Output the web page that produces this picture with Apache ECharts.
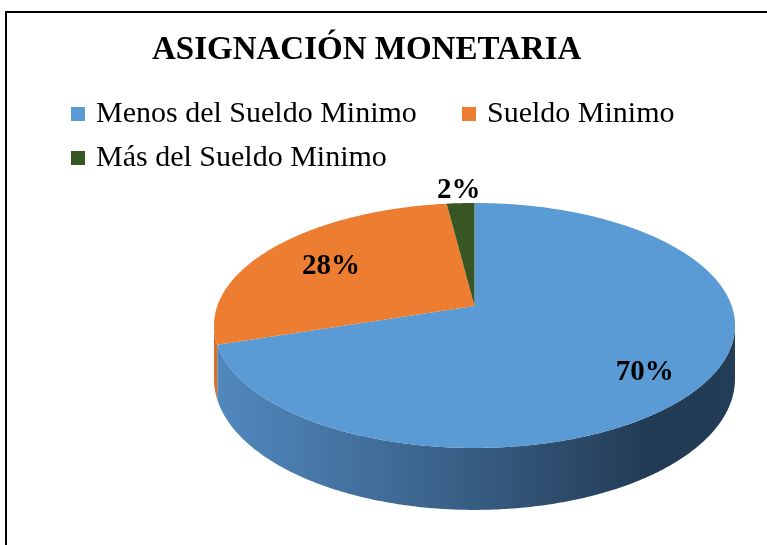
<!DOCTYPE html>
<html>
<head>
<meta charset="utf-8">
<script src="https://cdn.jsdelivr.net/npm/echarts@6/dist/echarts.min.js"></script>
<style>
  html, body { margin: 0; padding: 0; background: #fff; }
  #frame { position: absolute; left: 5px; top: 11px; width: 800px; height: 600px; border: 2px solid #000; box-sizing: border-box; }
  #chart { position: absolute; left: 0; top: 0; width: 767px; height: 545px; }
</style>
</head>
<body>
<div id="frame"></div>
<div id="chart"></div>
<script>
// ---- data ----
const title = 'ASIGNACIÓN MONETARIA';
const categories = ['Menos del Sueldo Minimo', 'Sueldo Minimo', 'Más del Sueldo Minimo'];
const values = [70, 28, 2];

// ---- styles ----
const topColors = ['#5b9bd5', '#ed7d31', '#375623'];
const sideStops = [
  [{offset: 0, color: '#5189bf'}, {offset: 0.45, color: '#3a6189'}, {offset: 0.85, color: '#223a53'}, {offset: 1, color: '#243d57'}],
  [{offset: 0, color: '#d8712c'}, {offset: 1, color: '#8a4a1c'}],
  [{offset: 0, color: '#2e481d'}, {offset: 1, color: '#1c2c12'}]
];

// projection of the tilted disc (perspective)
const CX = 474.5, CY = 306, A = 257.2, B = 119.4, K = 0.159, D = 52.1;
function proj(theta, r, drop) {
  const u = r * Math.sin(theta), v = r * Math.cos(theta);
  const w = 1 + K * v;
  return [CX + A * u / w, CY - B * v / w + (drop ? D / w : 0)];
}
const total = values.reduce((s, v) => s + v, 0);
const starts = [];
let acc = 0;
values.forEach(v => { starts.push(acc / total * Math.PI * 2); acc += v; });

function arcPts(a0, a1, drop) {
  const pts = [];
  const n = Math.max(2, Math.ceil((a1 - a0) / (Math.PI / 360)));
  for (let i = 0; i <= n; i++) pts.push(proj(a0 + (a1 - a0) * i / n, 1, drop));
  return pts;
}

function makeRender(idx) {
  return function (params, api) {
    const v = api.value(0);
    const a0 = starts[idx];
    const a1 = a0 + v / total * Math.PI * 2;
    const children = [];
    // visible side (front) range
    const s0 = Math.acos(-K), s1 = Math.PI * 2 - Math.acos(-K);
    const b0 = Math.max(a0, s0), b1 = Math.min(a1, s1);
    if (b1 > b0) {
      const topRim = arcPts(b0, b1, false);
      const botRim = arcPts(b0, b1, true).reverse();
      children.push({
        type: 'polygon',
        shape: { points: topRim.concat(botRim) },
        style: { fill: { type: 'linear', x: CX - A * 1.013, y: 0, x2: CX + A * 1.013, y2: 0, global: true, colorStops: sideStops[idx] } }
      });
    }
    children.push({
      type: 'polygon',
      shape: { points: [proj(0, 0, false)].concat(arcPts(a0, a1, false)) },
      style: { fill: topColors[idx] }
    });
    const pct = v / total;
    const rl = pct < 0.05 ? 1.15 : (pct > 0.5 ? 0.76 : 0.7);
    const dy = pct < 0.05 ? 0 : (pct > 0.5 ? 9 : 3);
    const lp = proj((a0 + a1) / 2, rl, false);
    children.push({
      type: 'text',
      x: lp[0], y: lp[1] + dy,
      style: {
        text: Math.round(pct * 100) + '%',
        align: 'center', verticalAlign: 'middle',
        font: 'bold 29px "Liberation Serif", "Times New Roman", serif',
        fill: '#000'
      }
    });
    return { type: 'group', children };
  };
}

const chart = echarts.init(document.getElementById('chart'), null, { renderer: 'canvas' });
const legendBase = {
  orient: 'horizontal', padding: 0, itemWidth: 14, itemHeight: 14, icon: 'rect',
  selectedMode: false,
  textStyle: { fontFamily: '"Liberation Serif", "Times New Roman", serif', fontSize: 30, color: '#000', padding: [0, 0, 0, 6] }
};
chart.setOption({
  animation: false,
  title: {
    text: title, left: 152, top: 34, padding: 0,
    textStyle: { fontFamily: '"Liberation Serif", "Times New Roman", serif', fontWeight: 'bold', fontSize: 33, color: '#000' }
  },
  legend: [
    Object.assign({}, legendBase, { data: [categories[0]], left: 71, top: 99 }),
    Object.assign({}, legendBase, { data: [categories[1]], left: 462, top: 99 }),
    Object.assign({}, legendBase, { data: [categories[2]], left: 71, top: 143 })
  ],
  series: categories.map((name, i) => ({
    type: 'custom',
    name: name,
    coordinateSystem: 'none',
    silent: true,
    itemStyle: { color: topColors[i] },
    renderItem: makeRender(i),
    data: [values[i]]
  }))
});
</script>
</body>
</html>
